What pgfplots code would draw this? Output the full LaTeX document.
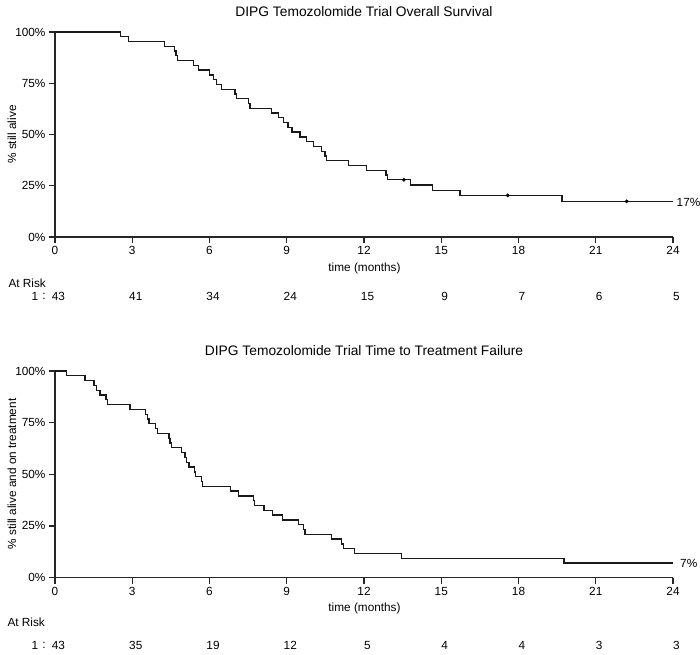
\documentclass[border=0pt]{standalone}
\usepackage{fontspec}
\setmainfont{Liberation Sans}
\usepackage{pgfplots}
\pgfplotsset{compat=1.18}
\newcommand{\tf}{\fontsize{13.8}{16}\selectfont}
\newcommand{\lf}{\fontsize{11.8}{14}\selectfont}
\pgfplotsset{kmaxis/.style={
  scale only axis, width=618pt, anchor=south west,
  xmin=0, xmax=24, ymin=0, ymax=100,
  axis x line*=bottom, axis y line*=left,
  xtick={0,3,...,24}, ytick={0,25,50,75,100},
  yticklabels={0\%,25\%,50\%,75\%,100\%},
  tick align=outside, major tick length=6pt,
  axis line style={line width=1.5pt, black!85},
  tick style={line width=1.3pt, black!85},
  tick label style={font=\lf},
  /pgf/number format/assume math mode=true,
  clip=false,
}}
\begin{document}
\begin{tikzpicture}[x=1pt,y=1pt]
\path[use as bounding box] (0,0) rectangle (700,654);
% ---------- Top: Overall survival ----------
\begin{axis}[kmaxis, height=205pt, at={(55pt,417pt)}]
\addplot[const plot, black!90, line width=1.3pt] coordinates {
(0,100) (2.55,97.67) (2.86,95.35) (4.26,93.02) (4.65,90.70) (4.70,88.37) (4.76,86.05)
(5.37,83.72) (5.57,81.40) (5.99,79.07) (6.15,76.74) (6.28,74.42) (6.47,72.09)
(6.99,69.77) (7.05,67.44) (7.51,65.12) (7.57,62.79) (8.41,60.47) (8.67,58.14)
(8.87,55.81) (9.05,53.49) (9.2,51.16) (9.51,48.84) (9.77,46.51) (10.04,44.19)
(10.36,41.86) (10.48,39.53) (10.55,37.21) (11.39,34.88) (12.1,32.56) (12.85,30.23)
(12.9,27.91) (13.81,25.37) (14.67,22.83) (15.73,20.30) (19.69,17.40) (24,17.40)
};
\addplot[only marks, mark=*, mark size=1.7pt, black] coordinates {
(13.55,27.91) (17.58,20.30) (22.2,17.40)
};
\end{axis}
\node[font=\tf] at (364,642) {DIPG Temozolomide Trial Overall Survival};
\node[font=\lf, rotate=90] at (12,519.5) {\% still alive};
\node[font=\lf] at (364.5,386) {time (months)};
\node[font=\lf, anchor=west, inner sep=0pt] at (676.5,451.7) {17\%};
\node[font=\lf, anchor=west] at (5,370.7) {At Risk};
\node[font=\lf] at (35,357.3) {1};
\node[font=\lf] at (44,357.3) {:};
\foreach \t/\n in {0/43,3/41,6/34,9/24,12/15,15/9,18/7,21/6,24/5}{
  \node[font=\lf] at ({55+\t*25.75+3.5},357.3) {\n};
}
% ---------- Bottom: Time to treatment failure ----------
\begin{axis}[kmaxis, height=206.5pt, at={(55pt,76.5pt)}]
\addplot[const plot, black!90, line width=1.3pt] coordinates {
(0,100) (0.45,97.67) (1.17,95.35) (1.52,93.02) (1.62,90.70) (1.75,88.37) (1.98,86.05)
(2.05,83.72) (2.91,81.40) (3.52,79.07) (3.58,76.74) (3.65,74.42) (3.9,72.09)
(3.97,69.77) (4.43,67.44) (4.47,65.12) (4.52,62.79) (4.92,60.47) (5.05,58.14)
(5.12,55.81) (5.2,53.49) (5.42,51.16) (5.46,48.84) (5.68,46.51) (5.72,44.19)
(6.82,41.86) (7.12,39.53) (7.7,37.21) (7.75,34.88) (8.12,32.56) (8.45,30.23)
(8.84,27.91) (9.45,25.58) (9.64,23.26) (9.71,20.93) (10.74,18.60) (11.13,16.28)
(11.2,13.95) (11.62,11.63) (13.46,9.30) (19.77,6.98) (24,6.98)
};
\end{axis}
\node[font=\tf] at (364,303) {DIPG Temozolomide Trial Time to Treatment Failure};
\node[font=\lf, rotate=90] at (12,180) {\% still alive and on treatment};
\node[font=\lf] at (364.5,46) {time (months)};
\node[font=\lf, anchor=west, inner sep=0pt] at (680,90.7) {7\%};
\node[font=\lf, anchor=west] at (4,31.7) {At Risk};
\node[font=\lf] at (35,8.3) {1};
\node[font=\lf] at (44,8.3) {:};
\foreach \t/\n in {0/43,3/35,6/19,9/12,12/5,15/4,18/4,21/3,24/3}{
  \node[font=\lf] at ({55+\t*25.75+3.5},8.3) {\n};
}
\end{tikzpicture}
\end{document}
